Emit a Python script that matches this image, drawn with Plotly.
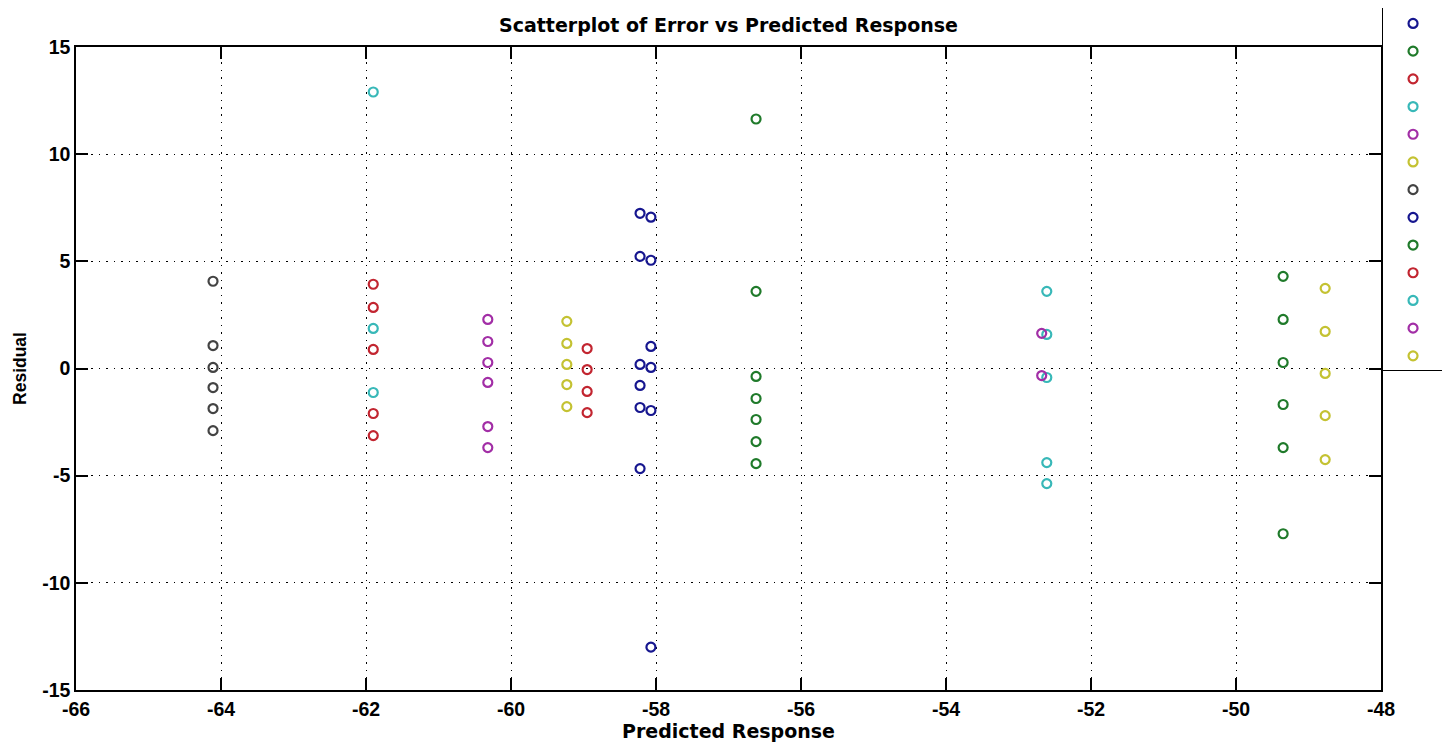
import plotly.graph_objects as go

series_names = ["1", "2", "3", "4", "5", "6", "7", "8", "9", "10", "11", "12", "13"]
series_colors = ["#16168f", "#1f7a2a", "#c22530", "#38b8b8", "#a22ea6", "#c4c232",
                 "#434343", "#16168f", "#1f7a2a", "#c22530", "#38b8b8", "#a22ea6", "#c4c232"]
series_x = [-58.22, -56.62, -61.90, -61.90, -60.32, -59.23, -64.11,
            -58.07, -49.35, -58.95, -52.61, -52.68, -48.77]
series_y = [
    [7.24, 5.23, 0.19, -0.79, -1.82, -4.67],
    [11.64, 3.60, -0.37, -1.40, -2.38, -3.41, -4.44],
    [3.93, 2.85, 0.89, -2.10, -3.13],
    [12.90, 1.87, -1.12],
    [2.29, 1.26, 0.28, -0.65, -2.71, -3.69],
    [2.20, 1.17, 0.19, -0.75, -1.78],
    [4.07, 1.07, 0.05, -0.89, -1.87, -2.90],
    [7.06, 5.05, 1.03, 0.05, -1.96, -13.00],
    [4.30, 2.29, 0.28, -1.68, -3.69, -7.71],
    [0.93, -0.05, -1.07, -2.06],
    [3.60, 1.59, -0.42, -4.39, -5.37],
    [1.64, -0.33],
    [3.74, 1.73, -0.23, -2.20, -4.25],
]

x_ticks = [-66, -64, -62, -60, -58, -56, -54, -52, -50, -48]
y_ticks = [-15, -10, -5, 0, 5, 10, 15]

fig = go.Figure()
for name, color, xv, ys in zip(series_names, series_colors, series_x, series_y):
    fig.add_trace(go.Scatter(
        x=[xv] * len(ys), y=ys, mode="markers", name=name,
        marker=dict(symbol="circle-open", size=9, color=color, line=dict(width=2.2, color=color)),
    ))

tick_family = "Liberation Sans, Arial, sans-serif"
wide_family = "DejaVu Sans, sans-serif"
axis_common = dict(
    showline=True, linecolor="black", linewidth=1.5, mirror="ticks",
    ticks="inside", ticklen=12, tickwidth=1.5, tickcolor="black",
    showgrid=True, gridcolor="black", gridwidth=1.2, griddash="1.5px,6px",
    zeroline=False, automargin=False,
    tickfont=dict(family=tick_family, size=19.5, color="black", weight="bold"),
)

# page body keeps an 8px margin, so the figure is sized to fill the rest of the window
fig.update_layout(
    width=1442, height=734,
    margin=dict(l=68, r=69, t=39, b=52, autoexpand=False),
    paper_bgcolor="white", plot_bgcolor="white",
    title=dict(text="<b>Scatterplot of Error vs Predicted Response</b>", x=0.5, xref="paper",
               xanchor="center", y=0.977, yanchor="middle",
               font=dict(family=wide_family, size=19, color="black")),
    xaxis=dict(range=[-66, -48], tickvals=x_ticks,
               ticktext=["<b>%d</b>" % v for v in x_ticks], ticklabelstandoff=1,
               title=dict(text="<b>Predicted Response</b>", standoff=3,
                          font=dict(family=wide_family, size=19, color="black")),
               **axis_common),
    yaxis=dict(range=[-15, 15], tickvals=y_ticks,
               ticktext=["<b>%d</b>" % v for v in y_ticks],
               title=dict(text="<b>Residual</b>", standoff=11,
                          font=dict(family=tick_family, size=17.5, color="black")),
               **axis_common),
    legend=dict(x=1.0008, xanchor="left", y=1.0675, yanchor="top",
                bgcolor="white", bordercolor="black", borderwidth=1,
                font=dict(family=tick_family, size=19, color="black"),
                itemwidth=50, tracegroupgap=0),
)

fig.write_html("out.html")
